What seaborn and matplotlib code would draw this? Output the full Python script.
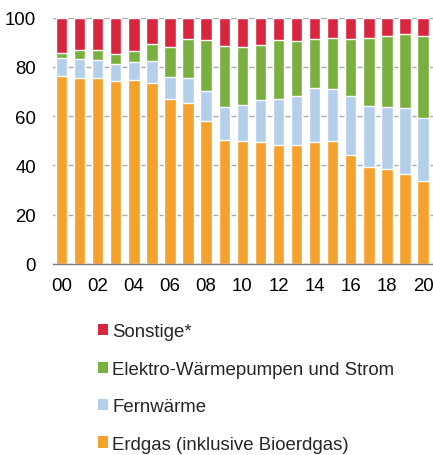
#!/usr/bin/env python3
import pandas as pd
import seaborn as sns
import matplotlib.pyplot as plt
from matplotlib.patches import Patch

years = ["00", "01", "02", "03", "04", "05", "06", "07", "08", "09", "10",
         "11", "12", "13", "14", "15", "16", "17", "18", "19", "20"]

# Anteile in Prozent, von unten nach oben gestapelt
erdgas = [76.5, 75.7, 75.5, 74.1, 74.9, 73.6, 66.8, 65.5, 58.2, 50.5, 50.0,
          49.7, 48.4, 48.1, 49.7, 50.1, 44.1, 39.2, 38.4, 36.5, 33.5]
fernwaerme = [7.0, 7.5, 7.3, 7.1, 7.3, 9.0, 9.0, 10.2, 12.2, 13.4, 14.7,
              16.7, 18.6, 19.9, 21.7, 21.0, 24.1, 25.1, 25.2, 27.0, 25.8]
elektro = [2.3, 3.8, 4.0, 4.1, 4.3, 6.6, 12.3, 15.7, 20.7, 24.7, 23.5,
           22.7, 23.9, 22.5, 19.8, 20.7, 23.2, 27.5, 29.0, 29.9, 33.4]
sonstige = [14.2, 13.0, 13.2, 14.7, 13.5, 10.8, 11.9, 8.6, 8.9, 11.4, 11.8,
            10.9, 9.1, 9.5, 8.8, 8.2, 8.6, 8.2, 7.4, 6.6, 7.3]

labels = ["Erdgas (inklusive Bioerdgas)", "Fernwärme",
          "Elektro-Wärmepumpen und Strom", "Sonstige*"]
colors = ["#F5A12E", "#B4CFEA", "#7AB03F", "#D9263F"]


def main():
    sns.set_style("white")
    plt.rcParams["font.family"] = ["Liberation Sans", "DejaVu Sans"]

    df = pd.DataFrame({"jahr": years, labels[0]: erdgas, labels[1]: fernwaerme,
                       labels[2]: elektro, labels[3]: sonstige})
    # kumulierte Summen, oberste Serie zuerst zeichnen
    cum = df[labels].cumsum(axis=1)
    cum["jahr"] = years

    fig = plt.figure(figsize=(4.33, 4.56), dpi=100)
    ax = fig.add_axes([0.122, 0.419, 0.878, 0.54])

    for lab, col in reversed(list(zip(labels, colors))):
        sns.barplot(data=cum, x="jahr", y=lab, color=col, width=0.63,
                    saturation=1, ax=ax, zorder=3)

    ax.set_ylim(0, 100)
    ax.set_xlim(-0.48, 20.55)
    ax.set_yticks([0, 20, 40, 60, 80, 100])
    ax.set_xticks(range(0, 21, 2))
    ax.set_xticklabels(years[::2])
    ax.set_xlabel("")
    ax.set_ylabel("")
    ax.yaxis.grid(True, color="#ABABAB", linewidth=1, zorder=0)
    ax.tick_params(axis="both", length=0, labelsize=13.4, colors="black")
    ax.tick_params(axis="y", pad=12)
    ax.tick_params(axis="x", pad=9.5)
    for s in ["left", "right", "top"]:
        ax.spines[s].set_visible(False)
    ax.spines["bottom"].set_color("#7F7F7F")
    ax.spines["bottom"].set_linewidth(1)
    ax.spines["bottom"].set_zorder(4)

    handles = [Patch(facecolor=c, edgecolor="none") for c in reversed(colors)]
    fig.legend(handles, list(reversed(labels)), loc="upper left",
               bbox_to_anchor=(0.226, 0.289), frameon=False, fontsize=13.4,
               handlelength=0.54, handleheight=0.54, handletextpad=0.22,
               labelspacing=1.1, borderpad=0, borderaxespad=0)

    fig.savefig("out.png", dpi=100)
    plt.close(fig)


if __name__ == "__main__":
    main()
